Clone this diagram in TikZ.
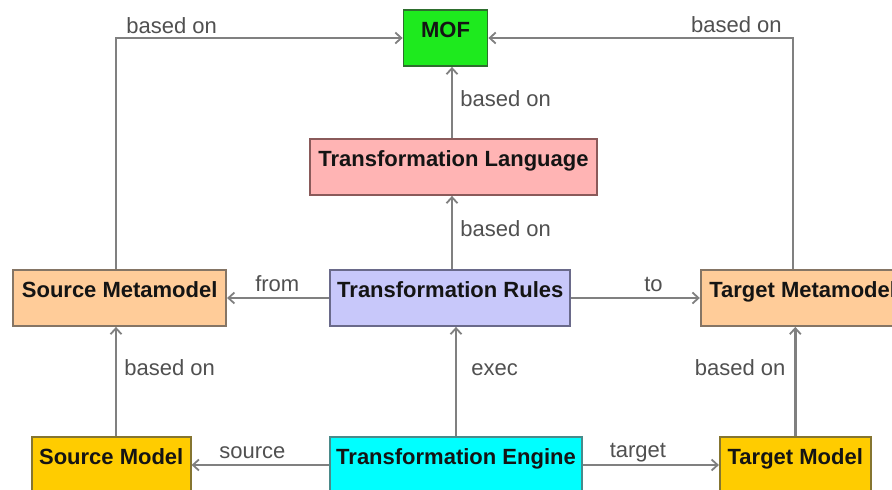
\documentclass[tikz,border=0pt]{standalone}
\usepackage{fontspec}
\setmainfont{Liberation Sans}
\usetikzlibrary{arrows.meta}
\definecolor{linegray}{HTML}{808080}
\definecolor{labelgray}{HTML}{505050}
\definecolor{mofgreen}{HTML}{1EEA1E}
\definecolor{mofborder}{HTML}{2E6E2E}
\definecolor{tlpink}{HTML}{FFB4B4}
\definecolor{tlborder}{HTML}{8A5A5A}
\definecolor{trblue}{HTML}{C8C8FA}
\definecolor{trborder}{HTML}{6A6A8A}
\definecolor{peach}{HTML}{FFCC99}
\definecolor{peachborder}{HTML}{857565}
\definecolor{gold}{HTML}{FFCC00}
\definecolor{goldborder}{HTML}{857530}
\definecolor{cyanfill}{HTML}{00FFFF}
\definecolor{cyanborder}{HTML}{4A8A8A}
\begin{document}
\begin{tikzpicture}[x=1pt,y=-1pt,
  box/.style={draw, line width=1.8pt, inner sep=0pt, text height=27pt, text depth=29pt,
    minimum height=56pt, font=\bfseries\fontsize{22}{26}\selectfont, text=black!92},
  conn/.style={draw=linegray, line width=2.7pt,
    -{Straight Barb[length=6pt,width=11pt,line width=1.8pt]}},
  lbl/.style={font=\fontsize{22}{26}\selectfont, text=labelgray, inner sep=0pt}]
\useasboundingbox (0,0) rectangle (892,490);
\fill[white] (0,0) rectangle (892,490);
\clip (0,0) rectangle (892,490);

\node[box, fill=mofgreen, draw=mofborder, minimum width=84pt] (MOF) at (445.5,38) {MOF};
\node[box, fill=tlpink, draw=tlborder, minimum width=287pt] (TL) at (453.5,167) {Transformation Language};
\node[box, fill=trblue, draw=trborder, minimum width=240pt] (TR) at (450.3,298) {Transformation Rules};
\node[box, fill=peach, draw=peachborder, minimum width=213pt] (SM) at (119.7,298) {Source Metamodel};
\node[box, fill=peach, draw=peachborder, minimum width=204pt] (TM) at (802.7,298) {Target Metamodel};
\node[box, fill=gold, draw=goldborder, minimum width=159pt] (SMod) at (111.2,465) {Source Model};
\node[box, fill=cyanfill, draw=cyanborder, minimum width=252pt] (TE) at (456,465) {Transformation Engine};
\node[box, fill=gold, draw=goldborder, minimum width=151pt] (TMod) at (795.3,465) {Target Model};

\draw[conn] ([xshift=-3.7pt]SM.north) |- (MOF.west)
  node[lbl, pos=0.5, anchor=base west, xshift=9pt, yshift=5pt] {based on};
\draw[conn] ([xshift=-9.7pt]TM.north) |- (MOF.east)
  node[lbl, pos=0.5, anchor=base east, xshift=-10pt, yshift=6pt] {based on};
\draw[conn] ([xshift=-1.5pt]TL.north) -- ([xshift=-1.5pt]TL.north |- MOF.south)
  node[lbl, midway, anchor=base west, xshift=7pt, yshift=-3.5pt] {based on};
\draw[conn] ([xshift=1.7pt]TR.north) -- ([xshift=1.7pt]TR.north |- TL.south)
  node[lbl, midway, anchor=base west, xshift=7pt, yshift=-3.5pt] {based on};
\draw[conn] (TR.west) -- (SM.east)
  node[lbl, midway, anchor=base, xshift=-1pt, yshift=6.3pt] {from};
\draw[conn] (TR.east) -- (TM.west)
  node[lbl, midway, anchor=base, xshift=18pt, yshift=6.3pt] {to};
\draw[conn] ([xshift=4.8pt]SMod.north) -- ([xshift=4.8pt]SMod.north |- SM.south)
  node[lbl, midway, anchor=base west, xshift=7pt, yshift=6.5pt] {based on};
\draw[conn] (TE.north) -- (TE.north |- TR.south)
  node[lbl, midway, anchor=base west, xshift=14pt, yshift=6.5pt] {exec};
\draw[conn] (TMod.north) -- (TMod.north |- TM.south)
  node[lbl, midway, anchor=base east, xshift=-8.5pt, yshift=6.5pt] {based on};
\draw[conn] (TE.west) -- (SMod.east)
  node[lbl, midway, anchor=base, xshift=-8pt, yshift=7pt] {source};
\draw[conn] (TE.east) -- (TMod.west)
  node[lbl, midway, anchor=base, xshift=-13pt, yshift=8pt] {target};
\end{tikzpicture}
\end{document}
